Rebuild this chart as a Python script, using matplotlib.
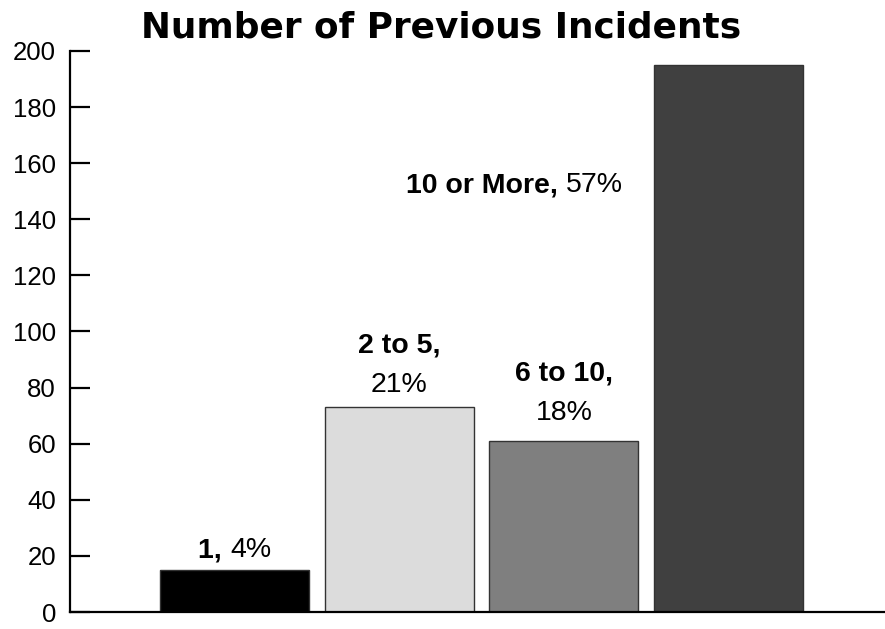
import matplotlib
matplotlib.use("Agg")
import matplotlib.pyplot as plt
from matplotlib.transforms import ScaledTranslation

plt.rcParams['font.family'] = ['Liberation Sans', 'DejaVu Sans']

# counts per incident group
categories = ["1", "2 to 5", "6 to 10", "10 or More"]
counts = [15, 73, 61, 195]
shares = ["4%", "21%", "18%", "57%"]
bar_colors = ["#000000", "#dcdcdc", "#7f7f7f", "#404040"]
yticks = [0, 20, 40, 60, 80, 100, 120, 140, 160, 180, 200]

fig = plt.figure(figsize=(8.85, 6.29), dpi=100)
ax = fig.add_axes([0.0791, 0.027, 0.9209, 0.892])

xs = list(range(len(categories)))
ax.bar(xs, counts, width=0.905, color=bar_colors, edgecolor="#333333", linewidth=1.0)

ax.set_xlim(-1.0, 3.95)
ax.set_ylim(0, 200)
ax.set_yticks(yticks)
ax.set_xticks([])
ax.tick_params(axis='y', direction='in', length=14.5, width=1.6, pad=10, labelsize=18.5)
for side in ("top", "right"):
    ax.spines[side].set_visible(False)
for side in ("left", "bottom"):
    ax.spines[side].set_linewidth(1.6)

fs = 20.5


def inline_label(x, y, bold, normal):
    # bold part followed by regular part on the same baseline, centred on x
    t1 = ax.text(x, y, bold + " ", fontweight='bold', fontsize=fs, ha='left', va='baseline')
    t2 = ax.annotate(normal, xy=(1, 0), xycoords=t1, fontsize=fs, ha='left', va='bottom')
    r = fig.canvas.get_renderer()
    w = t1.get_window_extent(r).width + t2.get_window_extent(r).width
    t1.set_transform(ax.transData + ScaledTranslation(-w / 2 / fig.dpi, 0, fig.dpi_scale_trans))


def stacked_label(x, y, bold, normal):
    ax.text(x, y + 14, bold + ",", fontweight='bold', fontsize=fs, ha='center', va='baseline')
    ax.text(x, y, normal, fontsize=fs, ha='center', va='baseline')


inline_label(xs[0], counts[0] + 4.6, categories[0] + ",", shares[0])
stacked_label(xs[1], counts[1] + 5.4, categories[1], shares[1])
stacked_label(xs[2], counts[2] + 7.4, categories[2], shares[2])
inline_label(1.70, 149.7, categories[3] + ",", shares[3])

fig.text(0.498, 0.94, "Number of Previous Incidents", fontsize=25.8, fontweight='bold',
         family='DejaVu Sans', ha='center', va='baseline')

fig.savefig("out.png", dpi=100)
